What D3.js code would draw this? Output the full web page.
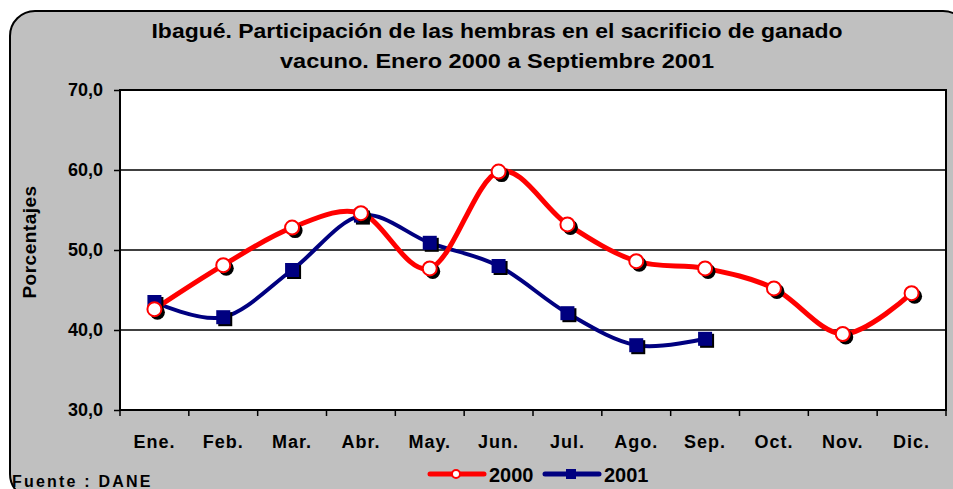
<!DOCTYPE html>
<html lang="es">
<head>
<meta charset="UTF-8">
<title>Ibagué - hembras</title>
<script src="https://d3js.org/d3.v7.min.js"></script>
<style>
    body { margin: 0; background: #fff; }
    svg text { font-family: Arial, "Liberation Sans", sans-serif; font-weight: bold; fill: #000; }
</style>
</head>
<body>
<div id="chart"></div>
<script>
    // data
    var months = ["Ene.", "Feb.", "Mar.", "Abr.", "May.", "Jun.", "Jul.", "Ago.", "Sep.", "Oct.", "Nov.", "Dic."];
    var values2000 = [42.6, 48.1, 52.8, 54.6, 47.7, 59.8, 53.2, 48.6, 47.7, 45.2, 39.5, 44.6];
    var values2001 = [43.5, 41.6, 47.5, 54.3, 50.9, 48.0, 42.1, 38.1, 38.9];
    var yTicks = [30, 40, 50, 60, 70];

    var W = 953, H = 489;
    var margin = {top: 90, right: 7, bottom: 79, left: 120};
    var width = W - margin.left - margin.right,
        height = H - margin.top - margin.bottom;

    var svg = d3.select("#chart").append("svg")
        .attr("width", W)
        .attr("height", H);

    // grey rounded frame
    svg.append("rect")
        .attr("x", 10).attr("y", 11)
        .attr("width", 958).attr("height", 488)
        .attr("rx", 25).attr("ry", 25)
        .attr("fill", "#c0c0c0")
        .attr("stroke", "#000")
        .attr("stroke-width", 2);

    // title (narrow bold face in the original, so fit it to the measured width)
    var title = ["Ibagué. Participación de las hembras en el sacrificio de ganado",
                 "vacuno. Enero 2000 a Septiembre 2001"];
    var titleLen = [691, 434];
    svg.selectAll(".title").data(title).enter().append("text")
        .attr("x", 497)
        .attr("y", function(d, i) { return 38 + i * 30; })
        .attr("text-anchor", "middle")
        .attr("textLength", function(d, i) { return titleLen[i]; })
        .attr("lengthAdjust", "spacingAndGlyphs")
        .style("font-size", "21px")
        .text(function(d) { return d; });

    var g = svg.append("g")
        .attr("transform", "translate(" + margin.left + "," + margin.top + ")");

    var x = d3.scaleBand().domain(months).range([0, width]);
    var y = d3.scaleLinear().domain([30, 70]).range([height, 0]);

    // plot area
    g.append("rect")
        .attr("width", width).attr("height", height)
        .attr("fill", "#fff");

    // gridlines
    g.append("g").selectAll("line")
        .data(yTicks.slice(1, -1)).enter().append("line")
        .attr("x1", 0).attr("x2", width)
        .attr("y1", function(d) { return y(d); })
        .attr("y2", function(d) { return y(d); })
        .attr("stroke", "#000")
        .attr("stroke-width", 1.5);

    g.append("rect")
        .attr("width", width).attr("height", height)
        .attr("fill", "none")
        .attr("stroke", "#000")
        .attr("stroke-width", 2);

    // y axis
    var yAxis = g.append("g")
        .call(d3.axisLeft(y).tickValues(yTicks).tickSize(6).tickPadding(11)
            .tickFormat(function(d) { return d3.format(".1f")(d).replace(".", ","); }));
    yAxis.select(".domain").remove();
    yAxis.selectAll("line").attr("stroke", "#000").attr("stroke-width", 1.5);
    yAxis.selectAll("text").style("font-size", "18px")
        .style("font-family", "Arial, 'Liberation Sans', sans-serif")
        .style("font-weight", "bold");

    // x axis ticks on band edges
    var edges = months.map(function(m) { return x(m); }).concat([width]);
    g.append("g").selectAll("line").data(edges).enter().append("line")
        .attr("x1", function(d) { return d; }).attr("x2", function(d) { return d; })
        .attr("y1", height).attr("y2", height + 6)
        .attr("stroke", "#000").attr("stroke-width", 1.5);

    g.append("g").selectAll("text").data(months).enter().append("text")
        .attr("x", function(d) { return x(d) + x.bandwidth() / 2; })
        .attr("y", height + 38)
        .attr("text-anchor", "middle")
        .style("font-size", "18px")
        .style("letter-spacing", "1px")
        .text(function(d) { return d; });

    // y axis title
    svg.append("text")
        .attr("transform", "translate(36,242)rotate(-90)")
        .attr("text-anchor", "middle")
        .style("font-size", "19px")
        .style("letter-spacing", "0.5px")
        .text("Porcentajes");

    // lines (smoothed like the original)
    var line = d3.line()
        .x(function(d, i) { return x(months[i]) + x.bandwidth() / 2; })
        .y(function(d) { return y(d); })
        .curve(d3.curveCatmullRom.alpha(0));

    g.append("path").datum(values2001)
        .attr("d", line)
        .attr("fill", "none")
        .attr("stroke", "#000080")
        .attr("stroke-width", 4);

    g.append("path").datum(values2000)
        .attr("d", line)
        .attr("fill", "none")
        .attr("stroke", "#ff0000")
        .attr("stroke-width", 5);

    var cx = function(d, i) { return x(months[i]) + x.bandwidth() / 2; };

    // 2001 markers with shadow
    var sq = 14;
    g.append("g").selectAll("rect").data(values2001).enter().append("rect")
        .attr("x", function(d, i) { return cx(d, i) - sq / 2 + 2; })
        .attr("y", function(d) { return y(d) - sq / 2 + 2; })
        .attr("width", sq).attr("height", sq)
        .attr("fill", "#000");
    g.append("g").selectAll("rect").data(values2001).enter().append("rect")
        .attr("x", function(d, i) { return cx(d, i) - sq / 2; })
        .attr("y", function(d) { return y(d) - sq / 2; })
        .attr("width", sq).attr("height", sq)
        .attr("fill", "#000080");

    // 2000 markers with shadow
    g.append("g").selectAll("circle").data(values2000).enter().append("circle")
        .attr("cx", function(d, i) { return cx(d, i) + 3; })
        .attr("cy", function(d) { return y(d) + 3; })
        .attr("r", 7.5)
        .attr("fill", "#000");
    g.append("g").selectAll("circle").data(values2000).enter().append("circle")
        .attr("cx", cx)
        .attr("cy", function(d) { return y(d); })
        .attr("r", 7)
        .attr("fill", "#fff")
        .attr("stroke", "#ff0000")
        .attr("stroke-width", 2);

    // source
    svg.append("text")
        .attr("x", 12).attr("y", 487)
        .style("font-size", "16px")
        .style("letter-spacing", "2.2px")
        .text("Fuente : DANE");

    // legend
    var legend = svg.append("g").attr("transform", "translate(0,474)");
    legend.append("line").attr("x1", 430).attr("x2", 484).attr("y1", 0).attr("y2", 0)
        .attr("stroke", "#ff0000").attr("stroke-width", 5).attr("stroke-linecap", "round");
    legend.append("circle").attr("cx", 456).attr("cy", 0).attr("r", 4)
        .attr("fill", "#fff").attr("stroke", "#ff0000").attr("stroke-width", 2);
    legend.append("text").attr("x", 489).attr("y", 8).style("font-size", "20px").text("2000");
    legend.append("line").attr("x1", 545).attr("x2", 599).attr("y1", 0).attr("y2", 0)
        .attr("stroke", "#000080").attr("stroke-width", 5).attr("stroke-linecap", "round");
    legend.append("rect").attr("x", 566).attr("y", -5).attr("width", 10).attr("height", 10)
        .attr("fill", "#000080");
    legend.append("text").attr("x", 604).attr("y", 8).style("font-size", "20px").text("2001");
</script>
</body>
</html>
